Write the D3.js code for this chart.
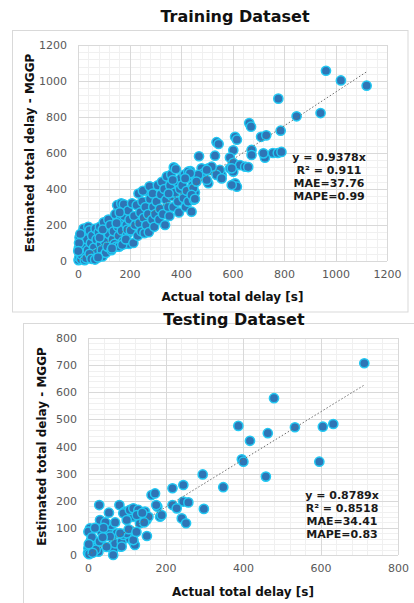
<!DOCTYPE html>
<html>
<head>
<meta charset="utf-8">
<script src="https://cdn.jsdelivr.net/npm/d3@7"></script>
<style>
  html, body { margin: 0; padding: 0; background: #fff; }
  svg { display: block; }
</style>
</head>
<body>
<svg id="chart" width="414" height="603"></svg>
<script>
// Actual vs estimated total delay [s], training set
const trainingPoints = [
  [2,5],[5,20],[8,45],[3,70],[10,95],[15,110],[6,130],[20,60],[25,30],[12,10],[30,85],[18,160],
  [22,180],[28,140],[35,120],[4,100],[14,35],[26,5],[1,55],[9,150],[32,15],[38,60],[40,190],[45,170],
  [50,100],[55,140],[60,30],[62,75],[68,180],[72,120],[75,45],[80,160],[85,190],[88,95],[92,60],[95,25],
  [98,140],[100,215],[104,110],[108,45],[110,175],[114,80],[118,230],[120,150],[45,40],[52,12],[66,8],
  [78,20],[84,130],[96,175],
  [125,200],[130,60],[135,120],[138,165],[142,95],[145,260],[148,80],[152,310],[155,190],[158,140],
  [160,80],[165,230],[168,320],[170,170],[175,110],[178,315],[180,250],[184,95],[188,200],[190,145],
  [195,280],[198,95],[200,230],[132,70],[150,210],[162,270],[172,90],[186,120],[192,175],
  [205,170],[210,320],[215,100],[218,250],[222,200],[228,310],[232,140],[235,375],[238,210],[242,270],
  [246,165],[250,330],[255,240],[258,155],[262,300],[265,200],[268,390],[272,260],[275,160],[280,345],
  [284,410],[288,230],[292,300],[296,190],[300,260],[252,390],[278,415],[290,375],
  [305,330],[310,420],[315,230],[318,290],[322,370],[326,440],[330,260],[335,400],[338,200],[342,340],
  [345,470],[350,300],[355,250],[358,420],[362,480],[365,360],[370,300],[372,520],[376,380],[380,510],
  [384,440],[388,330],[392,270],[396,400],[400,460],[368,450],[352,375],
  [405,420],[410,350],[414,480],[418,300],[422,390],[428,330],[432,470],[436,500],[445,420],[450,340],
  [454,380],[458,450],[448,405],
  [963,1057],[1021,1003],[1121,974],[778,902],[942,822],[849,804],[665,766],[672,746],[787,724],
  [711,690],[731,698],[610,690],[617,674],[538,660],[546,650],[603,615],[674,617],[590,575],[726,574],
  [757,600],[776,600],[790,606],[470,582],[532,585],[603,545],[629,533],[649,524],[661,522],[674,589],
  [720,598],[590,515],[603,496],[610,432],[617,413],[558,478],[480,515],[506,515],[519,506],[487,487],
  [467,478],[506,432],[551,506],[597,515],[513,506],[519,524],[538,478],[558,459],[597,422],[460,441],
  [500,450],[500,506],[441,367],[441,274],[454,345],[428,496],[435,487],[416,459]
];

// Actual vs estimated total delay [s], testing set
const testingPoints = [
  [713,707],[480,578],[388,476],[418,421],[464,449],[534,471],[606,473],[633,483],[397,353],[401,344],
  [597,344],[459,289],[296,297],[349,250],[246,258],[218,246],[246,197],[259,194],[299,170],[242,135],
  [253,117],[218,184],[229,172],[164,221],[173,227],[179,178],[186,141],[152,70],[190,147],[176,184],
  [151,129],[134,117],[117,141],
  [5,98],[29,184],[54,156],[81,184],[95,160],[91,154],[108,166],[117,172],[130,166],[126,147],[147,160],
  [156,141],[31,129],[35,86],[57,80],[83,31],[65,18],[22,43],[1,25],[0,7],[27,12],[70,43],[87,49],
  [108,61],[117,49],[121,37],[91,74],[100,80],[74,80],[57,68],[1,86],[5,45],[10,30],[15,15],[3,3],
  [8,55],[20,20],[65,0],[100,129],[83,80],[117,55],[87,31],[140,155],[60,110],[45,120],[40,100],
  [105,95],[125,85],[145,120],[10,65],[18,100],[2,40],[12,8],[30,50],[48,30],[38,65],[70,120]
];

const trainingTicks = [0, 200, 400, 600, 800, 1000, 1200];
const testingTicksX = [0, 200, 400, 600, 800];
const testingTicksY = [0, 100, 200, 300, 400, 500, 600, 700, 800];

const trainingSlope = 0.9378;
const testingSlope = 0.8789;
const trainingStats = ["y = 0.9378x", "R² = 0.911", "MAE=37.76", "MAPE=0.99"];
const testingStats = ["y = 0.8789x", "R² = 0.8518", "MAE=34.41", "MAPE=0.83"];

const titles = ["Training Dataset", "Testing Dataset"];
const xTitle = "Actual total delay [s]";
const yTitle = "Estimated total delay - MGGP";

const svg = d3.select("#chart");
const FONT = "'DejaVu Sans', Verdana, sans-serif";

function drawPanel(cfg) {
  const g = svg.append("g");

  // outer chart frame
  g.append("rect")
    .attr("x", cfg.frame[0]).attr("y", cfg.frame[1])
    .attr("width", cfg.frame[2]).attr("height", cfg.frame[3])
    .attr("fill", "#fff").attr("stroke", "#d9d9d9").attr("stroke-width", 1);

  const x = d3.scaleLinear().domain(cfg.xDomain).range([cfg.plot.left, cfg.plot.right]);
  const y = d3.scaleLinear().domain(cfg.yDomain).range([cfg.plot.bottom, cfg.plot.top]);

  // minor grid
  const minorX = d3.range(cfg.xDomain[0], cfg.xDomain[1] + 1e-9, cfg.minorX);
  const minorY = d3.range(cfg.yDomain[0], cfg.yDomain[1] + 1e-9, cfg.minorY);
  g.append("g").selectAll("line").data(minorX).join("line")
    .attr("x1", d => Math.round(x(d)) + 0.5).attr("x2", d => Math.round(x(d)) + 0.5)
    .attr("y1", y.range()[1]).attr("y2", y.range()[0])
    .attr("stroke", "#f0f0f0").attr("stroke-width", 1);
  g.append("g").selectAll("line").data(minorY).join("line")
    .attr("y1", d => Math.round(y(d)) + 0.5).attr("y2", d => Math.round(y(d)) + 0.5)
    .attr("x1", x.range()[0]).attr("x2", x.range()[1])
    .attr("stroke", "#f0f0f0").attr("stroke-width", 1);

  // major grid
  g.append("g").selectAll("line").data(cfg.ticksX).join("line")
    .attr("x1", d => Math.round(x(d)) + 0.5).attr("x2", d => Math.round(x(d)) + 0.5)
    .attr("y1", y.range()[1]).attr("y2", y.range()[0])
    .attr("stroke", "#d9d9d9").attr("stroke-width", 1);
  g.append("g").selectAll("line").data(cfg.ticksY).join("line")
    .attr("y1", d => Math.round(y(d)) + 0.5).attr("y2", d => Math.round(y(d)) + 0.5)
    .attr("x1", x.range()[0]).attr("x2", x.range()[1])
    .attr("stroke", "#d9d9d9").attr("stroke-width", 1);

  // tick labels via d3 axes
  const fmt = d3.format("d");
  const ax = g.append("g")
    .attr("transform", `translate(0,${cfg.plot.bottom + 9})`)
    .call(d3.axisBottom(x).tickValues(cfg.ticksX).tickFormat(fmt).tickSize(0).tickPadding(0));
  const ay = g.append("g")
    .attr("transform", `translate(${cfg.yLabelRight},0)`)
    .call(d3.axisLeft(y).tickValues(cfg.ticksY).tickFormat(fmt).tickSize(0).tickPadding(0));
  [ax, ay].forEach(a => {
    a.select(".domain").remove();
    a.selectAll("text")
      .attr("font-family", FONT).attr("font-size", 11).attr("fill", "#595959");
  });
  ax.selectAll("text").attr("dy", "0.71em");

  // points
  g.append("g").selectAll("circle").data(cfg.points).join("circle")
    .attr("cx", d => x(d[0])).attr("cy", d => y(d[1]))
    .attr("r", 4.6)
    .attr("fill", "#2e75b6")
    .attr("stroke", "#22c8f2")
    .attr("stroke-width", 1.5);

  // linear trendline through the origin
  const maxX = d3.max(cfg.points, d => d[0]);
  g.append("line")
    .attr("x1", x(0)).attr("y1", y(0))
    .attr("x2", x(maxX)).attr("y2", y(cfg.slope * maxX))
    .attr("stroke", "#6f6f6f").attr("stroke-width", 1)
    .attr("stroke-dasharray", "1.5,2");

  // statistics box
  g.append("g").selectAll("text").data(cfg.stats).join("text")
    .attr("x", cfg.statsX)
    .attr("y", (d, i) => cfg.statsY + i * 13)
    .attr("text-anchor", "middle")
    .attr("dominant-baseline", "central")
    .attr("font-family", FONT).attr("font-size", 11).attr("font-weight", "bold")
    .attr("fill", "#1a1a1a")
    .text(d => d);

  // chart title
  g.append("text")
    .attr("x", cfg.titleX).attr("y", cfg.titleY)
    .attr("text-anchor", "middle")
    .attr("font-family", FONT).attr("font-size", 16).attr("font-weight", "bold")
    .attr("fill", "#111")
    .text(cfg.title);

  // axis titles
  g.append("text")
    .attr("x", (cfg.plot.left + cfg.plot.right) / 2).attr("y", cfg.xTitleY)
    .attr("text-anchor", "middle").attr("dominant-baseline", "central")
    .attr("font-family", FONT).attr("font-size", 12).attr("font-weight", "bold")
    .attr("fill", "#111")
    .text(xTitle);
  g.append("text")
    .attr("transform", `translate(${cfg.yTitleX},${(cfg.plot.top + cfg.plot.bottom) / 2}) rotate(-90)`)
    .attr("text-anchor", "middle").attr("dominant-baseline", "central")
    .attr("font-family", FONT).attr("font-size", 12).attr("font-weight", "bold")
    .attr("fill", "#111")
    .text(yTitle);
}

drawPanel({
  frame: [12.5, 30.5, 395.5, 281.5],
  plot: { left: 78, right: 387, top: 45, bottom: 261 },
  xDomain: [0, 1200], yDomain: [0, 1200],
  ticksX: trainingTicks, ticksY: trainingTicks,
  minorX: 40, minorY: 40,
  yLabelRight: 67,
  points: trainingPoints, slope: trainingSlope,
  stats: trainingStats, statsX: 329, statsY: 157,
  title: titles[0], titleX: 235, titleY: 22,
  xTitleY: 297, yTitleX: 30
});

drawPanel({
  frame: [23.5, 323.5, 400, 290],
  plot: { left: 88, right: 398, top: 338, bottom: 555 },
  xDomain: [0, 800], yDomain: [0, 800],
  ticksX: testingTicksX, ticksY: testingTicksY,
  minorX: 40, minorY: 20,
  yLabelRight: 77,
  points: testingPoints, slope: testingSlope,
  stats: testingStats, statsX: 342, statsY: 495,
  title: titles[1], titleX: 234, titleY: 325,
  xTitleY: 592, yTitleX: 42
});
</script>
</body>
</html>
